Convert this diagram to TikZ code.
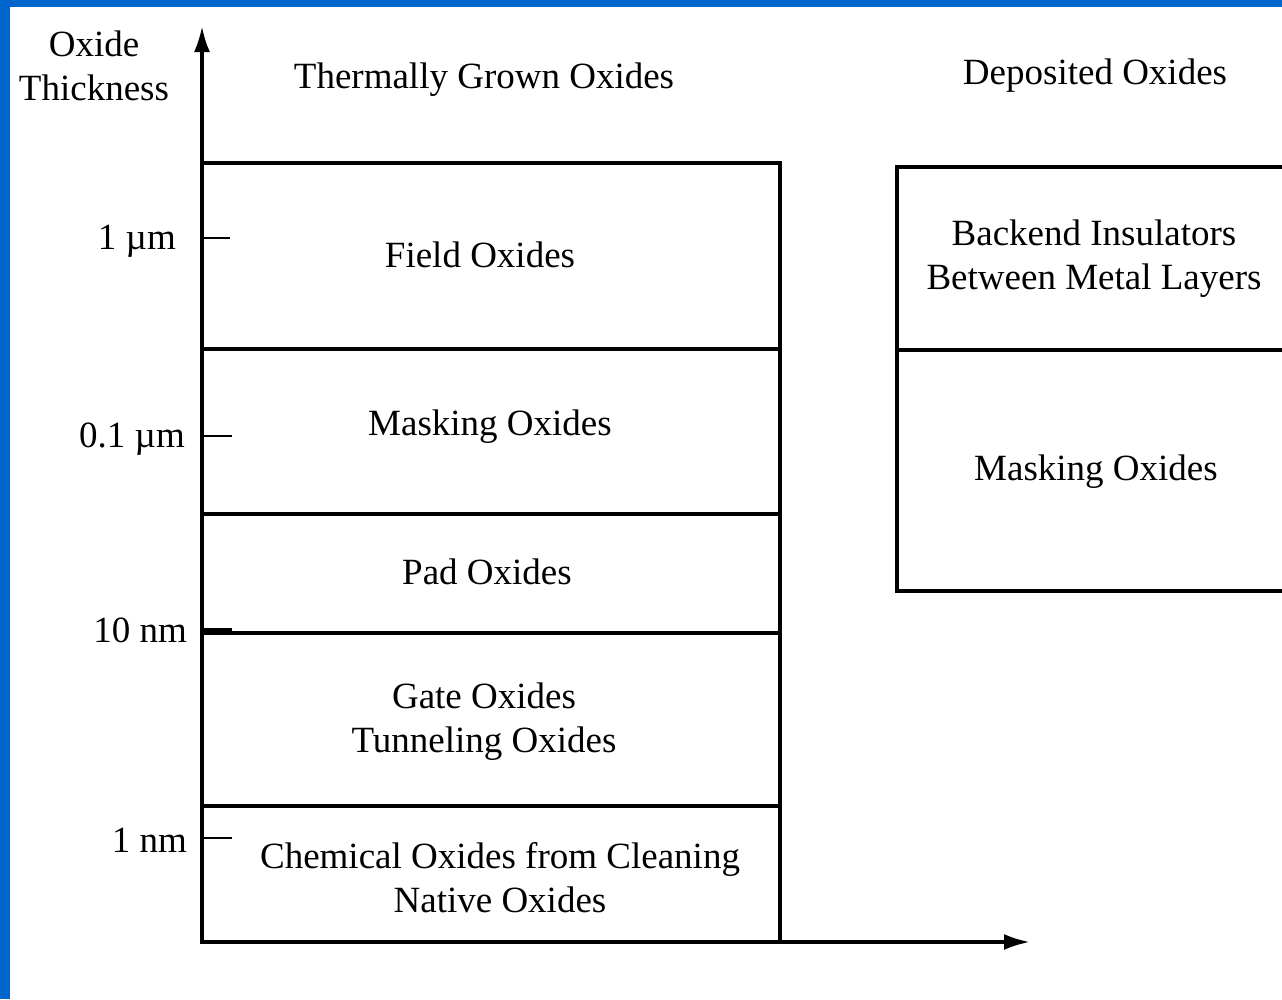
\documentclass[tikz,border=0pt]{standalone}
\usepackage{fontspec}
\setmainfont{Liberation Serif}
\usetikzlibrary{arrows.meta}
\definecolor{framecol}{HTML}{0066CC}
\begin{document}
\begin{tikzpicture}[x=1pt,y=-1pt,
  lbl/.style={font=\fontsize{37}{44}\selectfont, align=center, inner sep=0pt},
  layer/.style={draw, line width=4pt, anchor=north west, minimum width=578pt, outer sep=0pt, inner sep=0pt},
  axis/.style={line width=3.5pt},
  tick/.style={line width=2.8pt},
  boxline/.style={line width=4pt}]
\useasboundingbox (0,0) rectangle (1282,999);
\fill[framecol] (0,0) rectangle (1282,999);
\fill[white] (10,7) rectangle (1282,999);
% left stack of layers
\node[layer, minimum height=186pt] (field) at (202,163) {};
\node[layer, minimum height=165pt] (mask) at (202,349) {};
\node[layer, minimum height=119pt] (pad) at (202,514) {};
\node[layer, minimum height=173pt] (gate) at (202,633) {};
\node[layer, minimum height=136pt] (chem) at (202,806) {};
% axes
\coordinate (o) at (202,942);
\coordinate (ytip) at (202,26);
\coordinate (xtip) at (1030,942);
\draw[axis,-{Latex[length=26pt,width=16pt]}] (o) -- (ytip);
\draw[axis,-{Latex[length=26pt,width=16pt]}] (o) -- (xtip);
% ticks
\coordinate (t1a) at (202,238); \coordinate (t1b) at (230,238);
\coordinate (t2a) at (202,436); \coordinate (t2b) at (232,436);
\coordinate (t3a) at (202,630); \coordinate (t3b) at (232,630);
\coordinate (t4a) at (202,838); \coordinate (t4b) at (232,838);
\draw[tick] (t1a) -- (t1b);
\draw[tick] (t2a) -- (t2b);
\draw[line width=5pt] (t3a) -- (t3b);
\draw[line width=2pt] (t4a) -- (t4b);
\node[lbl, anchor=east] (l1) at (176,241) {1 µm};
\node[lbl, anchor=east] (l2) at (185,439) {0.1 µm};
\node[lbl, anchor=east] (l3) at (187,630) {10 nm};
\node[lbl, anchor=east] (l4) at (187,840) {1 nm};
% right box
\coordinate (rtl) at (897,167);
\coordinate (rtr) at (1290,167);
\coordinate (rml) at (897,350);
\coordinate (rmr) at (1290,350);
\coordinate (rbl) at (897,591);
\coordinate (rbr) at (1290,591);
\draw[boxline] (rtr) -- (rtl) -- (rbl) -- (rbr);
\draw[boxline] (rml) -- (rmr);
% texts
\node[lbl] (ylabel) at (94,66) {Oxide\\Thickness};
\node[lbl] (thermal) at (484,80) {Thermally Grown Oxides};
\node[lbl] (deposited) at (1095,76) {Deposited Oxides};
\node[lbl] (tfield) at (480,255) {Field Oxides};
\node[lbl] (tmask) at (490,427) {Masking Oxides};
\node[lbl] (tpad) at (487,572) {Pad Oxides};
\node[lbl] (tgate) at (484,722) {Gate Oxides\\Tunneling Oxides};
\node[lbl] (tchem) at (500,878) {Chemical Oxides from Cleaning\\Native Oxides};
\node[lbl] (tback) at (1094,259) {Backend Insulators\\Between Metal Layers};
\node[lbl] (tmask2) at (1096,472) {Masking Oxides};
\end{tikzpicture}
\end{document}
